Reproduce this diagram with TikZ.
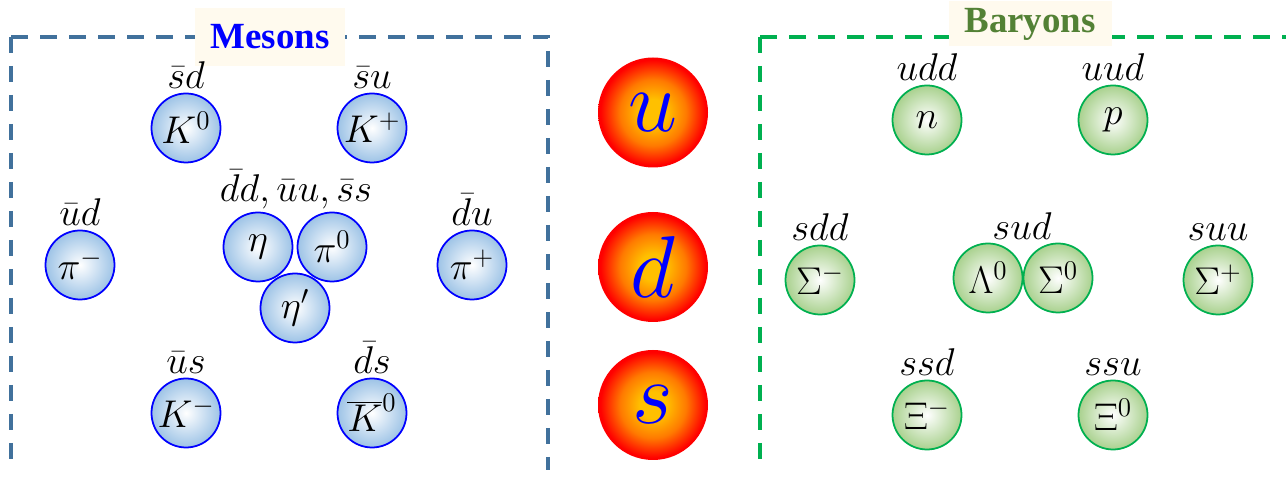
\RequirePackage{fix-cm}
\documentclass[tikz,border=0pt]{standalone}
\usepackage{xcolor}
\usepackage{tikz}
\usepackage{fontspec}
\usetikzlibrary{positioning}
\newfontfamily\headfont{Liberation Serif}
\definecolor{MesLine}{HTML}{41719C}
\definecolor{MesFill}{HTML}{9DC3E6}
\definecolor{MesText}{HTML}{0000FF}
\definecolor{BarLine}{HTML}{00B050}
\definecolor{BarFill}{HTML}{A9D18E}
\definecolor{BarText}{HTML}{538135}
\definecolor{QCore}{HTML}{FFC000}
\definecolor{QMid}{HTML}{FF7A00}
\definecolor{QEdge}{HTML}{FF0000}
\definecolor{TitleBg}{HTML}{FFFAEE}
\pgfdeclareradialshading{quarkball}{\pgfpoint{0bp}{0bp}}{color(0bp)=(QCore); color(6bp)=(QCore); color(15bp)=(QMid); color(24bp)=(QEdge); color(50bp)=(QEdge)}

\begin{document}
\begin{tikzpicture}[x=1cm,y=1cm,
  frame/.style={line width=2.2pt,dash pattern=on 0.33cm off 0.25cm},
  meson/.style={circle,draw=MesText,line width=1pt,inner color=white,outer color=MesFill,
    minimum size=1.38cm,inner sep=0pt,font=\fontsize{22}{26}\selectfont},
  baryon/.style={circle,draw=BarLine,line width=1pt,inner color=white,outer color=BarFill,
    minimum size=1.38cm,inner sep=0pt,font=\fontsize{22}{26}\selectfont},
  quark/.style={circle,shading=quarkball,minimum size=2.2cm,
    inner sep=0pt,text=MesText,font=\fontsize{50}{56}\selectfont},
  qlab/.style={inner sep=1pt,font=\fontsize{22}{26}\selectfont},
  ttl/.style={fill=TitleBg,inner sep=0pt,font=\headfont\bfseries\fontsize{21}{24}\selectfont}]
\path[use as bounding box] (0,0) rectangle (25.72,9.56);
% boxes
\draw[frame,MesLine] (0.22,8.82) -- (0.22,0.16);
\draw[frame,MesLine] (0.22,8.82) -- (10.96,8.82) -- (10.96,0.16);
\draw[frame,BarLine] (15.20,8.82) -- (15.20,0.16);
\draw[frame,BarLine] (15.20,8.82) -- (25.90,8.82);
\node[ttl,text=MesText,minimum width=3.0cm,minimum height=1.16cm] (mestitle) at (5.40,8.82) {Mesons};
\node[ttl,text=BarText,minimum width=3.26cm,minimum height=0.9cm] (bartitle) at (20.60,9.08) {Baryons};
% mesons
\node[meson] (K0) at (3.72,7.00) {$K^0$};
\node[meson] (Kp) at (7.44,7.00) {$K^+$};
\node[meson] (pim) at (1.60,4.26) {$\pi^-$};
\node[meson] (eta) at (5.16,4.62) {$\eta$};
\node[meson] (pi0) at (6.64,4.62) {$\pi^0$};
\node[meson] (etap) at (5.90,3.40) {$\eta'$};
\node[meson] (pip) at (9.44,4.26) {$\pi^+$};
\node[meson] (Km) at (3.72,1.30) {$K^-$};
\node[meson] (K0b) at (7.44,1.30) {$\overline{K}^0$};
\node[qlab,above=1pt of K0] (K0q) {$\bar sd$};
\node[qlab,above=1pt of Kp] (Kpq) {$\bar su$};
\node[qlab,above=1pt of pim] (pimq) {$\bar ud$};
\node[qlab,above=1pt of pip] (pipq) {$\bar du$};
\node[qlab,above=1pt of Km] (Kmq) {$\bar us$};
\node[qlab,above=1pt of K0b] (K0bq) {$\bar ds$};
\node[qlab,anchor=south] (etaq) at (5.92,5.34) {$\bar dd,\bar uu,\bar ss$};
% quarks
\node[quark] (qu) at (13.06,7.31) {$u$};
\node[quark] (qd) at (13.06,4.22) {$d$};
\node[quark] (qs) at (13.06,1.46) {$s$};
% baryons
\node[baryon] (n) at (18.54,7.16) {$n$};
\node[baryon] (p) at (22.26,7.16) {$p$};
\node[baryon] (Sigm) at (16.40,3.96) {$\Sigma^-$};
\node[baryon] (Lam0) at (19.76,4.00) {$\Lambda^0$};
\node[baryon] (Sig0) at (21.16,4.00) {$\Sigma^0$};
\node[baryon] (Sigp) at (24.36,3.96) {$\Sigma^+$};
\node[baryon] (Xim) at (18.54,1.26) {$\Xi^-$};
\node[baryon] (Xi0) at (22.26,1.26) {$\Xi^0$};
\node[qlab,above=1pt of n] (nq) {$udd$};
\node[qlab,above=1pt of p] (pq) {$uud$};
\node[qlab,above=1pt of Sigm] (Sigmq) {$sdd$};
\node[qlab,above=1pt of Sigp] (Sigpq) {$suu$};
\node[qlab,above=1pt of Xim] (Ximq) {$ssd$};
\node[qlab,above=1pt of Xi0] (Xi0q) {$ssu$};
\node[qlab,anchor=south] (Lamq) at (20.44,4.72) {$sud$};
\end{tikzpicture}
\end{document}
